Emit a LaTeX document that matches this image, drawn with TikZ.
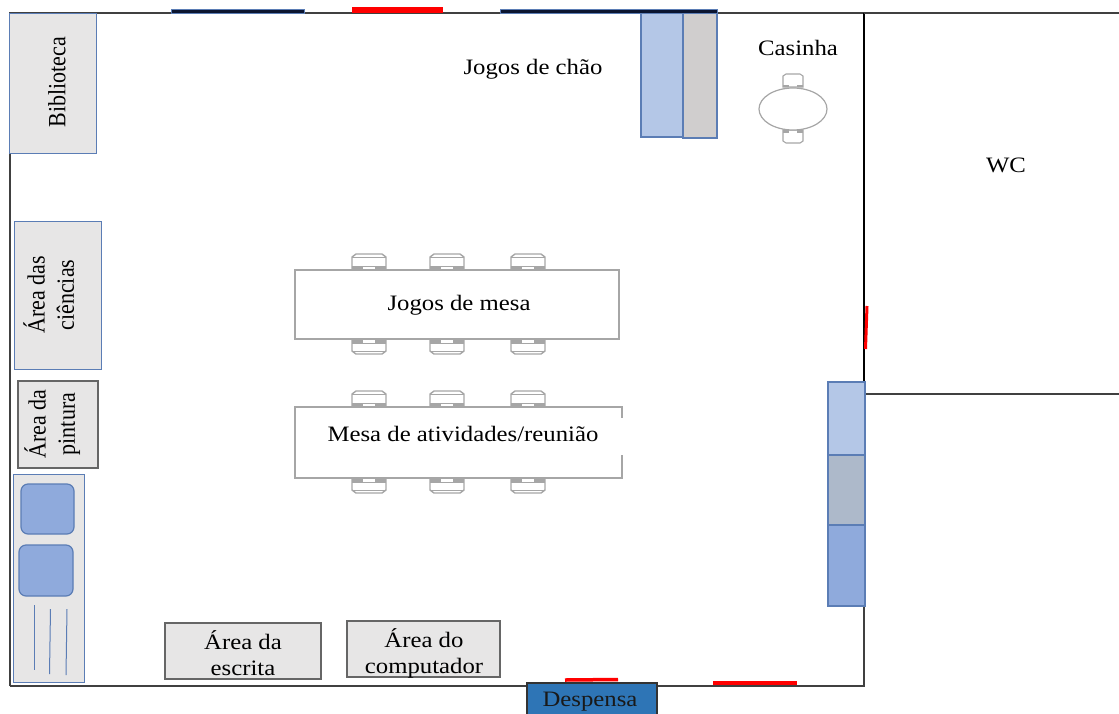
\documentclass[tikz,border=0pt]{standalone}
\usepackage{fontspec}
\usepackage{graphicx}
\usetikzlibrary{shapes.geometric}
\setmainfont{Liberation Serif}
\definecolor{edgeblue}{HTML}{5B7DB5}
\definecolor{panelgrey}{HTML}{E7E6E6}
\definecolor{lightblue}{HTML}{B4C7E7}
\definecolor{midblue}{HTML}{8FAADC}
\definecolor{slate}{HTML}{ADB9CA}
\definecolor{shelfgrey}{HTML}{D0CECE}
\definecolor{darkbar}{HTML}{0B1530}
\definecolor{furn}{HTML}{A6A6A6}
\definecolor{pantry}{HTML}{2E75B6}
\newcommand{\wide}[1]{\scalebox{1.125}[1]{#1}}
\newcommand{\tallpair}[2]{\scalebox{1}[1.125]{\begin{tabular}{@{}c@{}}#1\\#2\end{tabular}}}
\tikzset{
  x=1pt,y=-1pt,
  every node/.style={font=\fontsize{22}{26}\selectfont,inner sep=0pt,outer sep=0pt},
  areabox/.style={draw=edgeblue,line width=1pt,fill=panelgrey},
  greybox/.style={draw=black!60,line width=1.1pt,fill=panelgrey},
  unit/.style={draw=edgeblue,line width=1.3pt},
  tabletop/.style={draw=furn,line width=1.6pt,fill=white},
  wall/.style={black!75,line width=1.1pt},
  thickwall/.style={black,line width=2pt},
  opening/.style={red,line width=3.5pt},
  sinkbowl/.style={draw=edgeblue,line width=1.2pt,fill=midblue,rounded corners=7pt},
  tap/.style={edgeblue,line width=1pt},
  chairup/.pic={
    \draw[furn,line width=1.4pt,fill=white] (-17,16) -- (-17,3) -- (-13,0) -- (13,0) -- (17,3) -- (17,16);
    \draw[furn,line width=.8pt] (-17,3) -- (17,3);
    \fill[furn] (-17,12) rectangle (-6,15.5);
    \fill[furn] (6,12) rectangle (17,15.5);
    \draw[furn,line width=.8pt] (-6,12) -- (6,12);
  },
  chairdown/.pic={
    \draw[furn,line width=1.4pt,fill=white] (-17,0) -- (-17,11) -- (-13,14) -- (13,14) -- (17,11) -- (17,0);
    \draw[furn,line width=.8pt] (-17,11) -- (17,11);
    \fill[furn] (-17,0) rectangle (-6,3.5);
    \fill[furn] (6,0) rectangle (17,3.5);
    \draw[furn,line width=.8pt] (-6,3.5) -- (6,3.5);
  },
  smallup/.pic={
    \draw[furn,line width=1.1pt,fill=white] (-10,13) -- (-10,2) -- (-7,0) -- (7,0) -- (10,2) -- (10,13) -- cycle;
    \fill[furn] (-10,10.5) rectangle (-4,13);
    \fill[furn] (4,10.5) rectangle (10,13);
  },
  smalldown/.pic={
    \draw[furn,line width=1.1pt,fill=white] (-10,0) -- (-10,11) -- (-7,13) -- (7,13) -- (10,11) -- (10,0) -- cycle;
    \fill[furn] (-10,0) rectangle (-4,2.5);
    \fill[furn] (4,0) rectangle (10,2.5);
  }
}
\newcommand{\boxat}[6]{% name, style, x1, y1, x2, y2
  \node[#2,minimum width=#5pt-#3pt,minimum height=#6pt-#4pt,anchor=north west] (#1) at (#3,#4) {};}
\begin{document}
\begin{tikzpicture}
\useasboundingbox (0,0) rectangle (1119,713);
\fill[white] (0,0) rectangle (1119,713);
% room
\draw[wall] (10,686) -- (10,13) -- (864,13);
\draw[wall] (10,686) -- (864,686) -- (864,606);
\draw[thickwall] (864,13) -- (864,382);
\draw[wall] (864,13) -- (1119,13);
\draw[wall] (864,394) -- (1119,394);
% shelves
\boxat{shelfa}{unit,fill=lightblue}{641}{13}{683}{137}
\boxat{shelfb}{unit,fill=shelfgrey}{683}{13}{717}{138}
\boxat{cabc}{unit,fill=midblue}{828}{525}{865}{606}
\boxat{caba}{unit,fill=lightblue}{828}{382}{865}{455}
\boxat{cabb}{unit,fill=slate}{828}{455}{865}{525}
% windows and doors
\boxat{windowa}{draw=edgeblue,line width=.8pt,fill=darkbar}{171}{9}{304}{13}
\boxat{dooratop}{fill=red}{352}{7}{443}{13}
\boxat{windowb}{draw=edgeblue,line width=.8pt,fill=darkbar}{500}{9}{717}{13}
\draw[red,line width=3pt] (867,306) -- (865.5,349);
\draw[opening] (565,680) -- (618,679.5);
\draw[opening] (713,683) -- (797,683);
% left side
\node[areabox,minimum width=87pt,minimum height=140pt,anchor=north west] (biblio) at (9,13) {};
\node[rotate=90] (bibliotext) at (57,82) {\scalebox{1}[1.125]{Biblioteca}};
\node[areabox,minimum width=87pt,minimum height=148pt,anchor=north west] (ciencias) at (14,221) {};
\node[rotate=90] (cienciastext) at (53,295) {\tallpair{Área das}{ciências}};
\node[greybox,line width=1.5pt,minimum width=80pt,minimum height=87pt,anchor=north west] (pintura) at (18,381) {};
\node[rotate=90] (pinturatext) at (54,424) {\tallpair{Área da}{pintura}};
\node[areabox,minimum width=71pt,minimum height=208pt,anchor=north west] (sink) at (13,474) {};
\node[sinkbowl,minimum width=53pt,minimum height=50pt,anchor=north west] (bowla) at (21,484) {};
\node[sinkbowl,minimum width=54pt,minimum height=51pt,anchor=north west] (bowlb) at (19,545) {};
\draw[tap] (34,605) -- (34,670);
\draw[tap] (50.5,609) -- (49.5,674);
\draw[tap] (67,609) -- (66,675);
% bottom boxes
\node[greybox,minimum width=156pt,minimum height=56pt,anchor=north west] (escrita) at (165,623) {};
\node[align=center] (escritatext) at (243,653) {\wide{Área da}\\\wide{escrita}};
\node[greybox,minimum width=153pt,minimum height=56pt,anchor=north west] (computador) at (347,621) {};
\node[align=center] (computadortext) at (424,653) {\wide{Área do}\\\wide{computador}};
\node[draw=black!80,line width=1.1pt,fill=pantry,minimum width=130pt,minimum height=32pt,anchor=north west] (despensa) at (527,683) {};
\node[text=black!90] (despensatext) at (590,702) {\wide{Despensa}};
% chairs
\foreach \cx in {369,447,528}{
  \pic at (\cx,254) {chairup};
  \pic at (\cx,340) {chairdown};
  \pic at (\cx,391) {chairup};
  \pic at (\cx,479) {chairdown};
}
% tables
\node[tabletop,minimum width=324pt,minimum height=69pt,anchor=north west] (tablea) at (295,270) {};
\node[tabletop,minimum width=327pt,minimum height=71pt,anchor=north west] (tableb) at (295,407) {};
\fill[white] (620,418) rectangle (624,455);
\node (tablealabel) at (459,305) {\wide{Jogos de mesa}};
\node (tableblabel) at (463,434) {\wide{Mesa de atividades/reunião}};
% casinha
\pic at (793,74) {smallup};
\pic at (793,130) {smalldown};
\node[draw=furn,line width=1.2pt,fill=white,ellipse,minimum width=68pt,minimum height=42pt] (roundtable) at (793,109) {};
\node (casinha) at (798,48) {\wide{Casinha}};
\node (chao) at (533,69) {\wide{Jogos de chão}};
\node (wc) at (1006,165) {\wide{WC}};
\end{tikzpicture}
\end{document}
